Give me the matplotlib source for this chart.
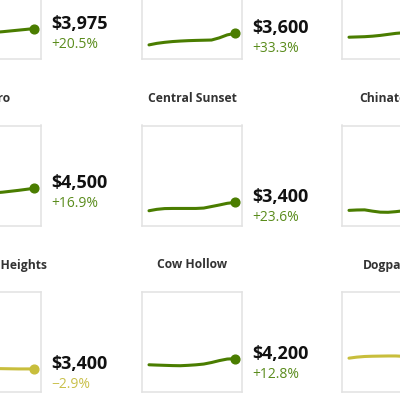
import matplotlib
matplotlib.use("Agg")
import matplotlib.pyplot as plt
from matplotlib import transforms

plt.rcParams['font.family'] = ['Open Sans', 'DejaVu Sans']

# Neighborhood names, row by row (3 visible columns)
names = [
    "Bayview", "Bernal Heights", "Buena Vista",
    "Castro", "Central Sunset", "Chinatown",
    "Clarendon Heights", "Cow Hollow", "Dogpatch",
]

# Monthly median rent series (12 points each)
rent_bayview = [3299, 3350, 3420, 3480, 3550, 3620, 3680, 3730, 3790, 3850, 3910, 3975]
rent_bernal = [2700, 2820, 2900, 2960, 3000, 3030, 3050, 3065, 3080, 3250, 3480, 3600]
rent_buena = [3300, 3320, 3340, 3380, 3440, 3520, 3600, 3650, 3700, 3720, 3750, 3800]
rent_castro = [3849, 3900, 3950, 4000, 4050, 4100, 4150, 4200, 4270, 4340, 4420, 4500]
rent_central_sunset = [2751, 2860, 2920, 2930, 2930, 2930, 2930, 2960, 3080, 3200, 3330, 3400]
rent_chinatown = [2780, 2810, 2820, 2720, 2640, 2630, 2680, 2750, 2800, 2850, 2900, 3000]
rent_corona = [3501, 3500, 3490, 3480, 3460, 3450, 3430, 3420, 3410, 3400, 3400, 3400]
rent_cow_hollow = [3723, 3700, 3680, 3660, 3650, 3680, 3720, 3780, 3900, 4050, 4170, 4200]
rent_dogpatch = [4240, 4320, 4370, 4390, 4400, 4410, 4410, 4380, 4350, 4300, 4250, 4200]

series = [rent_bayview, rent_bernal, rent_buena,
          rent_castro, rent_central_sunset, rent_chinatown,
          rent_corona, rent_cow_hollow, rent_dogpatch]

GREEN = '#4a7d00'
GREEN_TXT = '#5a8c1c'
YELLOW = '#c8be3c'
YELLOW_TXT = '#c9c04a'
BORDER = '#e2e2e2'

fig = plt.figure(figsize=(4, 4), dpi=100)
W = H = 400.0
box = 100.0
lefts = [-59, 142, 342]
tops = [-41, 125.5, 292]

n = len(rent_bayview)
pad = 7.0 / 86.0 * (n - 1)

for idx, (name, vals) in enumerate(zip(names, series)):
    r, c = divmod(idx, 3)
    L = lefts[c]
    T = tops[r]
    ax = fig.add_axes([L / W, 1 - (T + box) / H, box / W, box / H])
    ax.set_xlim(-pad, n - 1 + pad)
    ax.set_ylim(1600, 9400)
    ax.set_xticks([])
    ax.set_yticks([])
    for s in ax.spines.values():
        s.set_color(BORDER)
        s.set_linewidth(1.1)

    first, last = vals[0], vals[-1]
    pct = (last - first) / first * 100
    col = GREEN if pct >= 0 else YELLOW
    tcol = GREEN_TXT if pct >= 0 else YELLOW_TXT

    xs = list(range(n))
    ax.plot(xs, vals, color=col, lw=2.2, solid_capstyle='round',
            solid_joinstyle='round')
    ax.plot([xs[-1]], [last], 'o', color=col, ms=6.3, mec=col)

    # title
    ax.annotate(name, xy=(0.5, 1.0), xycoords='axes fraction',
                xytext=(0, 23.5), textcoords='offset pixels',
                ha='center', va='baseline', fontsize=8.7,
                fontweight='bold', color='#333333', annotation_clip=False)

    blend = transforms.blended_transform_factory(ax.transAxes, ax.transData)
    ax.annotate(f"${last:,.0f}", xy=(1.0, last), xycoords=blend,
                xytext=(10, 0), textcoords='offset pixels',
                ha='left', va='baseline', fontsize=13, fontweight='bold',
                color='#111111', annotation_clip=False)
    sign = '+' if pct >= 0 else '\u2212'
    ax.annotate(f"{sign}{abs(pct):.1f}%", xy=(1.0, last), xycoords=blend,
                xytext=(10, -19), textcoords='offset pixels',
                ha='left', va='baseline', fontsize=10,
                color=tcol, annotation_clip=False)

fig.savefig('out.png', dpi=100)
